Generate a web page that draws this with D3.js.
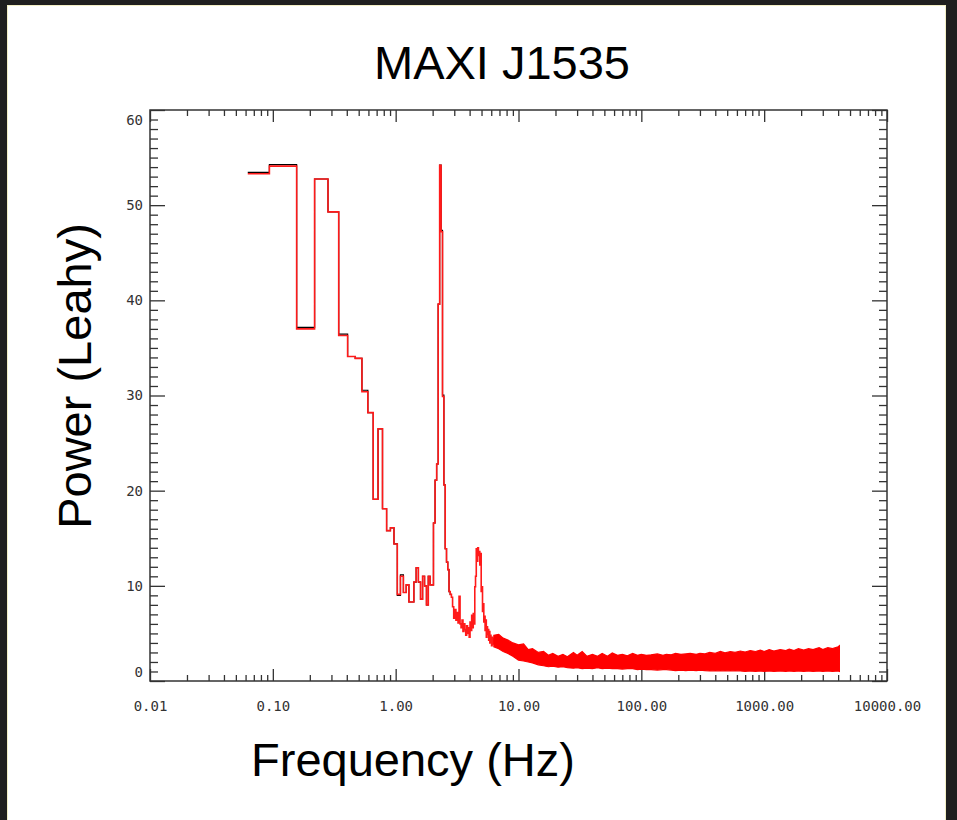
<!DOCTYPE html>
<html>
<head>
<meta charset="utf-8">
<script src="https://cdn.jsdelivr.net/npm/d3@7"></script>
<style>
  body { margin: 0; background: #1f1f1f; }
  svg { display: block; }
</style>
</head>
<body>
<svg id="chart" width="957" height="820"></svg>
<script>
// Power spectrum of MAXI J1535, Leahy normalised, 1/16 Hz bins

// bin width of the low-frequency spectrum (Hz); bin k is centred at k * binHz
const binHz = 0.0625;

// red spectrum, bins k = 1 .. 100 (0.0625 Hz .. 6.25 Hz)
const redPower = [
  53.3, 54.1, 37.0, 52.75, 49.3, 36.3, 34.1, 33.9, 30.4, 28.2,
  19.1, 26.5, 18.1, 15.8, 16.1, 14.4, 9.1, 11.0, 9.3, 10.1,
  8.3, 8.3, 10.4, 11.9, 10.4, 8.6, 11.0, 10.0, 8.0, 11.0,
  10.1, 10.1, 16.6, 21.1, 22.8, 39.6, 54.2, 47.2, 29.9, 20.6,
  13.9, 12.5, 11.7, 9.4, 9.1, 8.8, 7.8, 6.6, 7.5, 6.4,
  7.2, 6.1, 8.9, 6.0, 5.6, 6.4, 5.2, 6.0, 5.4, 4.8,
  5.8, 5.0, 5.6, 4.6, 6.2, 5.3, 6.9, 5.6, 7.1, 6.0,
  9.9, 11.0, 13.9, 12.6, 14.0, 13.2, 13.6, 12.2, 13.4, 9.4,
  9.9, 7.3, 8.1, 6.2, 6.8, 5.3, 6.4, 4.6, 5.7, 4.9,
  5.4, 4.3, 5.2, 4.0, 4.8, 4.4, 3.7, 4.6, 3.9, 4.5
];

// black spectrum underneath, first 45 bins (peeks out where it differs)
const blackPower = [
  53.45, 54.25, 37.15, 52.75, 49.3, 36.45, 34.1, 33.9, 30.55, 28.2,
  19.1, 26.5, 18.1, 15.8, 16.1, 14.4, 9.0, 11.15, 9.3, 10.1,
  8.3, 8.3, 10.4, 11.9, 10.4, 8.6, 11.0, 10.0, 8.0, 11.0,
  10.1, 10.1, 16.6, 21.1, 22.8, 39.6, 54.2, 47.35, 30.05, 20.6,
  13.9, 12.5, 11.7, 9.4, 9.1
];

// above ~6 Hz the bins are denser than the pixels: lower / upper envelope of the noise band
const bandFreq = [
  6.3, 6.9, 7.5, 8.2, 9.0, 10, 11, 12, 13, 14.5,
  16, 17.5, 19, 21, 23, 25, 28, 30, 33, 36,
  40, 44, 48, 53, 58, 64, 70, 77, 85, 93,
  100, 110, 120, 135, 150, 160, 175, 190, 210, 230,
  250, 280, 300, 330, 360, 400, 440, 480, 530, 580,
  640, 700, 770, 850, 930, 1000, 1100, 1200, 1350, 1500,
  1600, 1750, 1900, 2100, 2300, 2500, 2800, 3000, 3300, 3600,
  4000, 4096
];
const bandLow = [
  3.6, 3.4, 3.1, 2.9, 2.6, 2.2, 2.1, 2.0, 1.9, 1.7,
  1.6, 1.5, 1.55, 1.45, 1.5, 1.4, 1.35, 1.4, 1.3, 1.35,
  1.3, 1.4, 1.3, 1.35, 1.3, 1.3, 1.25, 1.3, 1.3, 1.2,
  1.25, 1.2, 1.2, 1.15, 1.2, 1.2, 1.15, 1.1, 1.15, 1.1,
  1.15, 1.1, 1.15, 1.1, 1.05, 1.1, 1.05, 1.1, 1.05, 1.1,
  1.05, 1.0, 1.05, 1.0, 1.05, 1.0, 1.05, 1.0, 1.05, 1.0,
  1.05, 1.0, 1.05, 1.0, 1.05, 1.0, 1.05, 1.0, 1.05, 1.0,
  1.05, 1.0
];
const bandHigh = [
  4.8, 4.9, 4.5, 4.3, 4.0, 3.8, 3.9, 3.3, 3.4, 3.0,
  3.1, 2.7, 2.9, 2.6, 2.8, 2.55, 3.0, 2.7, 3.1, 2.6,
  2.8, 2.6, 2.9, 2.6, 2.95, 2.7, 2.8, 2.65, 2.9, 2.7,
  2.8, 2.7, 2.75, 2.85, 2.7, 2.8, 2.75, 2.9, 2.8, 2.85,
  2.9, 2.8, 2.9, 2.85, 3.0, 2.9, 3.1, 2.95, 3.1, 3.0,
  3.15, 3.05, 3.2, 3.1, 3.25, 3.1, 3.3, 3.15, 3.3, 3.2,
  3.35, 3.2, 3.4, 3.25, 3.4, 3.3, 3.5, 3.3, 3.5, 3.4,
  3.6, 3.7
];

// axis ticks
const xMajor = [0.01, 0.1, 1, 10, 100, 1000, 10000];
const xMinor = [2, 3, 4, 5, 6, 7, 8, 9];
const yMajor = [0, 10, 20, 30, 40, 50, 60];

const svg = d3.select('#chart');

// white page panel
svg.append('rect')
  .attr('x', 7.5).attr('y', 5.5)
  .attr('width', 938).attr('height', 820)
  .attr('fill', '#fff')
  .attr('stroke', '#f3efc6');

const margin = { left: 150, right: 887, top: 110, bottom: 681 };

const x = d3.scaleLog().domain([0.01, 10000]).range([margin.left, margin.right]);
const y = d3.scaleLinear().domain([0, 60]).range([margin.bottom, margin.top]);

const minorX = xMajor.slice(0, -1).flatMap(d => xMinor.map(m => d * m));
const minorY = d3.range(0, 61).filter(v => v % 10 !== 0);

const axisColor = '#333';
const labelFont = '"DejaVu Sans Mono", monospace';

function styleAxis(g) {
  g.select('.domain').remove();
  g.selectAll('.tick line').attr('stroke', axisColor).attr('stroke-width', 1.3);
  g.selectAll('.tick text')
    .attr('fill', axisColor)
    .style('font-family', labelFont)
    .style('font-size', '14px');
}

// bottom axis
svg.append('g')
  .attr('transform', `translate(0,${margin.bottom})`)
  .call(d3.axisBottom(x).tickValues(minorX).tickSize(-6).tickFormat(''))
  .call(styleAxis);
svg.append('g')
  .attr('transform', `translate(0,${margin.bottom})`)
  .call(d3.axisBottom(x).tickValues(xMajor).tickSize(-12).tickPadding(20)
    .tickFormat(d3.format('.2f')))
  .call(styleAxis);

// top axis (ticks only)
svg.append('g')
  .attr('transform', `translate(0,${margin.top})`)
  .call(d3.axisTop(x).tickValues(minorX).tickSize(-6).tickFormat(''))
  .call(styleAxis);
svg.append('g')
  .attr('transform', `translate(0,${margin.top})`)
  .call(d3.axisTop(x).tickValues(xMajor).tickSize(-12).tickFormat(''))
  .call(styleAxis);

// left axis
svg.append('g')
  .attr('transform', `translate(${margin.left},0)`)
  .call(d3.axisLeft(y).tickValues(minorY).tickSize(-8).tickFormat(''))
  .call(styleAxis);
const yAxis = svg.append('g')
  .attr('transform', `translate(${margin.left},0)`)
  .call(d3.axisLeft(y).tickValues(yMajor).tickSize(-15).tickPadding(7))
  .call(styleAxis);
// end labels are pulled inside the frame
yAxis.selectAll('.tick text')
  .attr('dy', d => d === 60 ? '1.0em' : d === 0 ? '-0.3em' : '0.32em');

// right axis (ticks only)
svg.append('g')
  .attr('transform', `translate(${margin.right},0)`)
  .call(d3.axisRight(y).tickValues(minorY).tickSize(-8).tickFormat(''))
  .call(styleAxis);
svg.append('g')
  .attr('transform', `translate(${margin.right},0)`)
  .call(d3.axisRight(y).tickValues(yMajor).tickSize(-15).tickFormat(''))
  .call(styleAxis);

// frame
svg.append('rect')
  .attr('x', margin.left).attr('y', margin.top)
  .attr('width', margin.right - margin.left)
  .attr('height', margin.bottom - margin.top)
  .attr('fill', 'none')
  .attr('stroke', axisColor)
  .attr('stroke-width', 1.5);

// histogram steps: first bin starts at its centre, others span centre +- binHz/2
function stepPoints(values) {
  const pts = values.map((v, i) => {
    const k = i + 1;
    const lo = k === 1 ? binHz : (k - 0.5) * binHz;
    return [lo, v];
  });
  pts.push([(values.length + 0.5) * binHz, values[values.length - 1]]);
  return pts;
}

const stepLine = d3.line()
  .x(d => x(d[0]))
  .y(d => y(d[1]))
  .curve(d3.curveStepAfter);

svg.append('path')
  .attr('d', stepLine(stepPoints(blackPower)))
  .attr('fill', 'none')
  .attr('stroke', '#000')
  .attr('stroke-width', 1.2);

svg.append('path')
  .attr('d', stepLine(stepPoints(redPower)))
  .attr('fill', 'none')
  .attr('stroke', '#ff1a1a')
  .attr('stroke-width', 1.6);

const band = bandFreq.map((f, i) => ({ f, lo: bandLow[i], hi: bandHigh[i] }));
svg.append('path')
  .attr('d', d3.area()
    .x(d => x(d.f))
    .y0(d => y(d.lo))
    .y1(d => y(d.hi))
    .curve(d3.curveLinear)(band))
  .attr('fill', '#ff0000')
  .attr('stroke', '#ff0000')
  .attr('stroke-width', 1.2);

// titles
const textFont = '"Liberation Sans", Arial, sans-serif';
svg.append('text')
  .attr('x', 502).attr('y', 79)
  .attr('text-anchor', 'middle')
  .style('font-family', textFont).style('font-size', '47px')
  .text('MAXI J1535');

svg.append('text')
  .attr('transform', 'translate(91,376) rotate(-90)')
  .attr('text-anchor', 'middle')
  .style('font-family', textFont).style('font-size', '47px')
  .text('Power (Leahy)');

svg.append('text')
  .attr('x', 413).attr('y', 776)
  .attr('text-anchor', 'middle')
  .style('font-family', textFont).style('font-size', '47px')
  .text('Frequency (Hz)');
</script>
</body>
</html>
